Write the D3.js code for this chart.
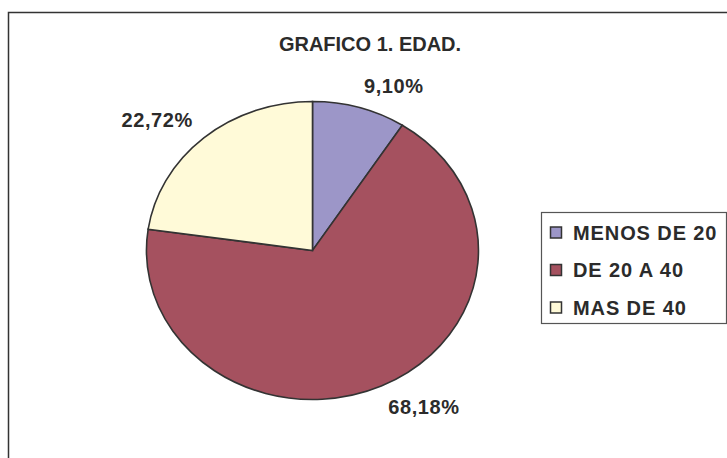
<!DOCTYPE html>
<html>
<head>
<meta charset="UTF-8" />
<style>
body { margin: 0; background: #fff; }
text { font-family: "Liberation Sans", Arial, sans-serif; font-weight: bold; fill: #2b2b2b; }
</style>
</head>
<body>
<script src="https://cdn.jsdelivr.net/npm/d3@7"></script>
<script>
var width = 727;
var height = 458;

// datos
var categorias = ["MENOS DE 20", "DE 20 A 40", "MAS DE 40"];
var valores = [9.10, 68.18, 22.72];
var etiquetas = ["9,10%", "68,18%", "22,72%"];
var colores = ["#9c96c8", "#a5515f", "#fffad8"];
var titulo = "GRAFICO 1. EDAD.";

var svg = d3.select("body")
			.append("svg")
			.attr("width", width)
			.attr("height", height);

// marco del grafico (se sale por la derecha y abajo)
svg.append("rect")
   .attr("x", 8.5)
   .attr("y", 12.5)
   .attr("width", 724)
   .attr("height", 460)
   .attr("fill", "#fff")
   .attr("stroke", "#333")
   .attr("stroke-width", 1.5);

svg.append("text")
   .attr("x", 370)
   .attr("y", 51)
   .attr("text-anchor", "middle")
   .style("font-size", "20px")
   .text(titulo);

// la tarta esta achatada: elipse
var cx = 312.5, cy = 250.5, rx = 166, ry = 149;

var pie = d3.pie().sort(null).value(d => d);
var arcs = pie(valores);

var arc = d3.arc().innerRadius(0).outerRadius(1);

var g = svg.append("g")
		   .attr("transform", "translate(" + cx + "," + cy + ") scale(" + rx + "," + ry + ")");

g.selectAll("path")
 .data(arcs)
 .enter()
 .append("path")
 .attr("d", arc)
 .attr("fill", (d, i) => colores[i])
 .attr("stroke", "#333")
 .attr("stroke-width", 1.6)
 .attr("vector-effect", "non-scaling-stroke");

// etiquetas fuera de la tarta
var k = 1.1;
svg.selectAll(".etiqueta")
   .data(arcs)
   .enter()
   .append("text")
   .attr("class", "etiqueta")
   .style("font-size", "20px")
   .style("letter-spacing", "0.6px")
   .each(function(d, i){
		var a = (d.startAngle + d.endAngle) / 2;
		var px = cx + Math.sin(a) * rx * k;
		var py = cy - Math.cos(a) * ry * k;
		d3.select(this)
		  .attr("x", px)
		  .attr("y", py < cy ? py : py + 14.5)
		  .attr("text-anchor", px > cx ? "start" : "end")
		  .text(etiquetas[i]);
   });

// leyenda
var leyenda = svg.append("g");

leyenda.append("rect")
	   .attr("x", 541.5)
	   .attr("y", 212.5)
	   .attr("width", 185)
	   .attr("height", 111)
	   .attr("fill", "#fff")
	   .attr("stroke", "#555")
	   .attr("stroke-width", 1.2);

var filas = d3.scalePoint().domain(categorias).range([232.5, 307.5]);

var items = leyenda.selectAll(".item")
				   .data(categorias)
				   .enter()
				   .append("g")
				   .attr("class", "item")
				   .attr("transform", d => "translate(550," + filas(d) + ")");

items.append("rect")
	 .attr("x", 0.5)
	 .attr("y", -5.5)
	 .attr("width", 11)
	 .attr("height", 11)
	 .attr("fill", (d, i) => colores[i])
	 .attr("stroke", "#333")
	 .attr("stroke-width", 1.5);

items.append("text")
	 .attr("x", 23)
	 .attr("y", 7)
	 .style("font-size", "20px")
	 .style("letter-spacing", "0.9px")
	 .text(d => d);
</script>
</body>
</html>
